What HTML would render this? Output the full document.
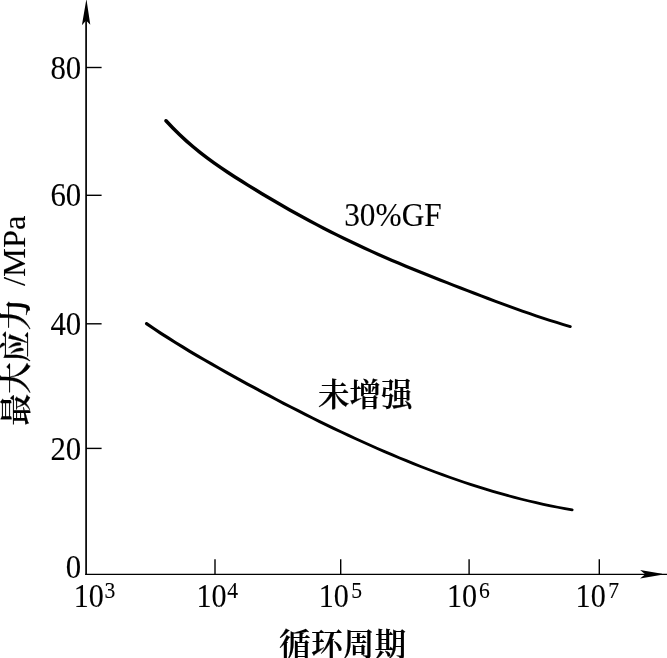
<!DOCTYPE html>
<html lang="zh">
<head>
<meta charset="utf-8">
<title>最大应力 - 循环周期</title>
<style>
html,body{margin:0;padding:0;background:#fff;}
body{width:667px;height:658px;overflow:hidden;position:relative;}
svg{display:block;position:absolute;left:0;top:0;}
text{font-family:"Liberation Serif","Noto Serif CJK SC",serif;fill:#000;stroke:#000;stroke-width:0.1px;}
.n{font-size:33.5px;}
.s{font-size:24.0px;}
.c{font-size:31.5px;font-weight:600;stroke-width:0.2px;}
.l{font-size:32.5px;font-weight:400;stroke-width:0.1px;}
</style>
</head>
<body>
<svg width="667" height="658" viewBox="0 0 667 658">
<rect width="667" height="658" fill="#fff"/>
<g stroke="#000" fill="none">
<line x1="86.10" y1="18" x2="86.10" y2="575.0" stroke-width="1.7"/>
<line x1="85.3" y1="574.3" x2="667" y2="574.3" stroke-width="1.3"/>
<g stroke-width="1.4">
<line x1="86.0" y1="67.5" x2="101.6" y2="67.5"/>
<line x1="86.0" y1="195.3" x2="101.6" y2="195.3"/>
<line x1="86.0" y1="323.8" x2="101.6" y2="323.8"/>
<line x1="86.0" y1="448.4" x2="101.6" y2="448.4"/>
<line x1="215.0" y1="574.3" x2="215.0" y2="559.3"/>
<line x1="340.7" y1="574.3" x2="340.7" y2="559.3"/>
<line x1="469.1" y1="574.3" x2="469.1" y2="559.3"/>
<line x1="599.3" y1="574.3" x2="599.3" y2="559.3"/>
</g>
</g>
<path d="M86.4 -1 L90.3 24.8 L86.1 20.6 L81.9 25.2 Z" fill="#000"/>
<path d="M640.1 570.1 L662 573.8 L662 574.8 L640.1 578.6 L645.2 574.3 Z" fill="#000"/>
<path fill="#000" d="M164.69 121.99L171.57 129.23L178.47 136.02L185.37 142.38L192.27 148.35L199.17 153.97L206.06 159.27L212.95 164.31L219.83 169.12L226.71 173.73L233.59 178.19L240.46 182.54L247.33 186.82L254.19 191.03L261.06 195.18L267.92 199.26L274.79 203.28L281.65 207.24L288.52 211.13L295.39 214.96L302.25 218.73L309.12 222.43L315.98 226.07L322.85 229.64L329.72 233.15L336.58 236.59L343.45 239.98L350.31 243.29L357.18 246.55L364.05 249.74L370.91 252.86L377.78 255.93L384.64 258.94L391.51 261.89L398.37 264.80L405.23 267.66L412.09 270.48L418.95 273.26L425.82 276.01L432.67 278.73L439.53 281.43L446.39 284.10L453.25 286.76L460.11 289.40L466.96 292.04L473.82 294.66L480.67 297.28L487.53 299.88L494.39 302.46L501.25 305.01L508.11 307.54L514.97 310.02L521.84 312.47L528.70 314.86L535.56 317.21L542.43 319.49L549.30 321.71L556.16 323.87L563.03 325.95L569.89 327.95L570.39 328.00L570.88 327.88L571.30 327.60L571.60 327.20L571.74 326.71L571.71 326.21L571.51 325.75L571.16 325.39L570.71 325.16L563.86 323.16L557.03 321.08L550.19 318.92L543.35 316.69L536.51 314.41L529.67 312.06L522.83 309.66L515.99 307.21L509.14 304.72L502.30 302.19L495.45 299.63L488.61 297.04L481.76 294.44L474.91 291.81L468.06 289.17L461.21 286.53L454.36 283.88L447.52 281.21L440.67 278.53L433.82 275.83L426.98 273.10L420.13 270.35L413.29 267.56L406.45 264.73L399.60 261.87L392.76 258.96L385.92 256.00L379.08 252.99L372.24 249.93L365.40 246.80L358.56 243.61L351.72 240.35L344.88 237.04L338.05 233.66L331.21 230.21L324.37 226.70L317.53 223.13L310.69 219.49L303.85 215.79L297.01 212.03L290.17 208.20L283.33 204.31L276.49 200.35L269.65 196.33L262.81 192.25L255.98 188.11L249.14 183.90L242.30 179.62L235.46 175.28L228.63 170.83L221.81 166.24L214.99 161.46L208.17 156.46L201.36 151.20L194.55 145.64L187.74 139.73L180.94 133.43L174.13 126.72L167.31 119.51L166.80 119.14L166.20 118.96L165.58 119.00L165.01 119.25L164.55 119.68L164.27 120.24L164.20 120.86L164.35 121.47Z"/>
<path fill="#000" d="M145.60 324.96L152.83 329.87L160.06 334.64L167.29 339.30L174.53 343.84L181.76 348.29L188.99 352.64L196.21 356.91L203.44 361.11L210.66 365.26L217.89 369.35L225.11 373.41L232.33 377.43L239.55 381.42L246.78 385.38L254.00 389.30L261.22 393.19L268.44 397.04L275.67 400.85L282.89 404.63L290.11 408.36L297.34 412.06L304.56 415.71L311.78 419.32L319.01 422.89L326.23 426.42L333.45 429.90L340.68 433.34L347.90 436.73L355.13 440.07L362.35 443.37L369.58 446.61L376.80 449.81L384.03 452.95L391.25 456.03L398.48 459.06L405.70 462.03L412.93 464.95L420.16 467.80L427.38 470.59L434.61 473.32L441.84 475.98L449.07 478.58L456.29 481.11L463.52 483.57L470.75 485.95L477.98 488.27L485.21 490.51L492.44 492.68L499.67 494.77L506.90 496.79L514.13 498.72L521.36 500.57L528.59 502.34L535.82 504.03L543.05 505.63L550.28 507.14L557.51 508.57L564.75 509.90L571.97 511.14L572.44 511.14L572.88 510.98L573.24 510.68L573.47 510.27L573.55 509.81L573.47 509.35L573.23 508.94L572.87 508.64L572.43 508.48L565.22 507.24L558.02 505.90L550.83 504.47L543.63 502.96L536.43 501.36L529.23 499.67L522.03 497.90L514.83 496.05L507.63 494.11L500.43 492.10L493.23 490.01L486.03 487.84L478.82 485.60L471.62 483.28L464.42 480.89L457.22 478.43L450.02 475.91L442.81 473.31L435.61 470.65L428.41 467.92L421.20 465.13L414.00 462.28L406.79 459.36L399.59 456.39L392.38 453.36L385.18 450.28L377.97 447.13L370.77 443.94L363.56 440.70L356.36 437.40L349.15 434.06L341.95 430.66L334.74 427.23L327.53 423.74L320.33 420.21L313.12 416.64L305.91 413.03L298.70 409.37L291.50 405.68L284.29 401.94L277.08 398.16L269.87 394.35L262.67 390.50L255.46 386.61L248.25 382.68L241.04 378.72L233.83 374.73L226.63 370.70L219.42 366.64L212.21 362.55L205.00 358.41L197.80 354.21L190.60 349.94L183.40 345.59L176.20 341.16L169.00 336.62L161.80 331.98L154.60 327.22L147.40 322.31L146.89 322.08L146.34 322.04L145.80 322.20L145.35 322.52L145.04 322.98L144.90 323.52L144.96 324.07L145.20 324.57Z"/>
<text class="n" text-anchor="end" transform="translate(81.2,79.0) scale(0.92,1)">80</text>
<text class="n" text-anchor="end" transform="translate(81.2,206.0) scale(0.92,1)">60</text>
<text class="n" text-anchor="end" transform="translate(81.2,335.3) scale(0.92,1)">40</text>
<text class="n" text-anchor="end" transform="translate(81.2,459.6) scale(0.92,1)">20</text>
<text class="n" text-anchor="end" transform="translate(81.2,577.6) scale(0.92,1)">0</text>
<text class="n" transform="translate(73.7,606.9) scale(0.9,1)">10<tspan class="s" x="34.1" y="-8.6">3</tspan></text>
<text class="n" transform="translate(196.5,606.9) scale(0.9,1)">10<tspan class="s" x="34.3" y="-8.6">4</tspan></text>
<text class="n" transform="translate(318.8,606.9) scale(0.9,1)">10<tspan class="s" x="36.0" y="-8.6">5</tspan></text>
<text class="n" transform="translate(446.9,606.9) scale(0.9,1)">10<tspan class="s" x="35.8" y="-8.6">6</tspan></text>
<text class="n" transform="translate(575.6,606.9) scale(0.9,1)">10<tspan class="s" x="36.3" y="-8.6">7</tspan></text>
<text class="n" style="font-size:33px" transform="translate(344.2,225.6) scale(0.95,1)">30%GF</text>
<text class="c" x="318" y="406">未增强</text>
<text class="c" text-anchor="middle" transform="translate(342.7,655.7) scale(1.01,1)">循环周期</text>
<text class="c" style="font-size:31.6px" transform="translate(26.5,425.4) rotate(-90)">最大应力<tspan class="l" x="131.3" y="-1.2"> /MPa</tspan></text>
</svg>
</body>
</html>
